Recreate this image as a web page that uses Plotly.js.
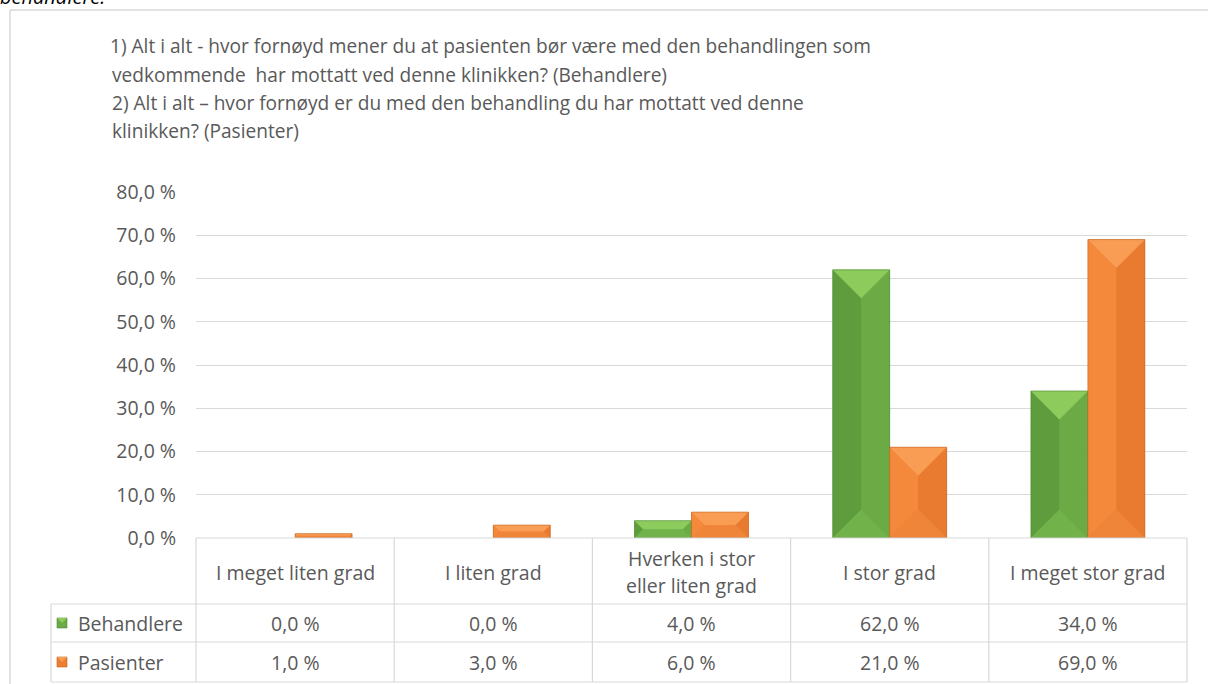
<!DOCTYPE html>
<html>
<head>
<meta charset="utf-8">
<script src="https://cdn.plot.ly/plotly-3.0.1.min.js"></script>
<style>html,body{margin:0;padding:0;background:#fff;}#chart{width:1208px;height:684px;}</style>
</head>
<body>
<div id="chart"></div>
<script>
// ---- data ----
const categories = ['I meget liten grad', 'I liten grad', 'Hverken i stor eller liten grad', 'I stor grad', 'I meget stor grad'];
const headerLines = [['I meget liten grad'], ['I liten grad'], ['Hverken i stor', 'eller liten grad'], ['I stor grad'], ['I meget stor grad']];
const seriesNames = ['Behandlere', 'Pasienter'];
const behandlere = [0, 0, 4, 62, 34];
const pasienter = [1, 3, 6, 21, 69];
const yTicks = [0, 10, 20, 30, 40, 50, 60, 70, 80];
const titleLines = [
  '\u00a01) Alt i alt - hvor fornøyd mener du at pasienten bør være med den behandlingen som',
  'vedkommende  har mottatt ved denne klinikken? (Behandlere)',
  '2) Alt i alt – hvor fornøyd er du med den behandling du har mottatt ved denne',
  'klinikken? (Pasienter)'
];

// ---- geometry / style ----
const FIGW = 1208, FIGH = 684;
const L = 196, R = 1187, T = 192, B = 538;
const W = R - L, H = B - T;
const YMAX = 80;
const BARGAP = 0.425;
const FONT = 'Open Sans, sans-serif';
const TXT = '#595959';
const GRID = '#D9D9D9';
const pal = [
  {base: '#6BAA45', left: '#5E9C3E', right: '#6BAA45', top: '#8CCB5C', bottom: '#72B24A', edge: '#4E8A33'},
  {base: '#ED7D31', left: '#F5893B', right: '#E87B30', top: '#F99D55', bottom: '#EF8538', edge: '#C4641F'}
];
const fmt = v => v.toFixed(1).replace('.', ',') + ' %';
const px2x = px => (px - L) / W;
const py2y = py => (B - py) / H;

const series = [behandlere, pasienter];
const traces = series.map((vals, t) => ({
  type: 'bar', name: seriesNames[t], x: categories, y: vals,
  marker: {color: pal[t].base, line: {width: 0}},
  hoverinfo: 'x+y+name'
}));

const shapes = [];
const annotations = [];

// bevel faces on bars (computed from data)
const bw = (1 - BARGAP) / 2;
const catPx = W / categories.length;
const unitPx = H / YMAX;
series.forEach((vals, t) => {
  vals.forEach((v, i) => {
    if (v <= 0) return;
    const c = i + (t === 0 ? -bw / 2 : bw / 2);
    const x0 = c - bw / 2, x1 = c + bw / 2;
    const dpx = Math.min(bw * catPx, v * unitPx) / 2;
    const dx = dpx / catPx, dy = dpx / unitPx;
    const ix0 = x0 + dx, ix1 = x1 - dx, iy0 = dy, iy1 = v - dy;
    const faces = [
      [`M${x0},0 L${x0},${v} L${ix0},${iy1} L${ix0},${iy0} Z`, pal[t].left],
      [`M${x1},0 L${x1},${v} L${ix1},${iy1} L${ix1},${iy0} Z`, pal[t].right],
      [`M${x0},0 L${x1},0 L${ix1},${iy0} L${ix0},${iy0} Z`, pal[t].bottom],
      [`M${x0},${v} L${x1},${v} L${ix1},${iy1} L${ix0},${iy1} Z`, pal[t].top]
    ];
    faces.forEach(([p, col]) => shapes.push({type: 'path', xref: 'x', yref: 'y', path: p, fillcolor: col, line: {width: 0}, layer: 'above'}));
    shapes.push({type: 'rect', xref: 'x', yref: 'y', x0: x0, x1: x1, y0: 0, y1: v, line: {color: pal[t].edge, width: 0.6}, fillcolor: 'rgba(0,0,0,0)', layer: 'above'});
  });
});

// outer frame (partial, as in the screenshot)
shapes.push({type: 'line', xref: 'paper', yref: 'paper', x0: px2x(10), x1: px2x(10), y0: py2y(10), y1: py2y(690), line: {color: '#D9D9D9', width: 1.5}});
shapes.push({type: 'line', xref: 'paper', yref: 'paper', x0: px2x(10), x1: px2x(1210), y0: py2y(10), y1: py2y(10), line: {color: '#D9D9D9', width: 1.5}});

// data table grid
const rowY = [538, 604, 642, 682];
const tLeft = 51;
const colX = categories.map((_, k) => L + k * catPx).concat([R]);
const gl = {color: GRID, width: 1.2};
shapes.push({type: 'line', xref: 'paper', yref: 'paper', x0: 0, x1: 1, y0: py2y(rowY[0]), y1: py2y(rowY[0]), line: gl});
[rowY[1], rowY[2], rowY[3]].forEach(py => shapes.push({type: 'line', xref: 'paper', yref: 'paper', x0: px2x(tLeft), x1: 1, y0: py2y(py), y1: py2y(py), line: gl}));
shapes.push({type: 'line', xref: 'paper', yref: 'paper', x0: px2x(tLeft), x1: px2x(tLeft), y0: py2y(rowY[1]), y1: py2y(rowY[3]), line: gl});
colX.forEach(px => shapes.push({type: 'line', xref: 'paper', yref: 'paper', x0: px2x(px), x1: px2x(px), y0: py2y(rowY[0]), y1: py2y(rowY[3]), line: gl}));

const tf = {family: FONT, size: 19.5, color: TXT};
// header labels
headerLines.forEach((lines, i) => {
  const mid = (rowY[0] + rowY[1]) / 2 + 1;
  const step = 27;
  lines.forEach((ln, j) => {
    const py = mid + (j - (lines.length - 1) / 2) * step;
    annotations.push({xref: 'x', yref: 'paper', x: categories[i], y: py2y(py), text: ln, showarrow: false, font: tf, xanchor: 'center', yanchor: 'middle'});
  });
});
// rows: legend keys, names, values
series.forEach((vals, t) => {
  const mid = (rowY[t + 1] + rowY[t + 2]) / 2;
  shapes.push({type: 'rect', xref: 'paper', yref: 'paper', x0: px2x(57), x1: px2x(67), y0: py2y(mid + 5), y1: py2y(mid - 5), fillcolor: pal[t].base, line: {color: pal[t].edge, width: 0.6}});
  shapes.push({type: 'path', xref: 'paper', yref: 'paper', path: `M${px2x(57)},${py2y(mid - 5)} L${px2x(67)},${py2y(mid - 5)} L${px2x(62)},${py2y(mid)} Z`, fillcolor: pal[t].top, line: {width: 0}});
  annotations.push({xref: 'paper', yref: 'paper', x: px2x(76), y: py2y(mid), text: seriesNames[t], showarrow: false, font: tf, xanchor: 'left', yanchor: 'middle'});
  vals.forEach((v, i) => annotations.push({xref: 'x', yref: 'paper', x: categories[i], y: py2y(mid), text: fmt(v), showarrow: false, font: tf, xanchor: 'center', yanchor: 'middle'}));
});

// title continuation lines
const titleY = [46, 75, 103, 131];
const titleFont = {family: FONT, size: 19.1, color: TXT};
for (let k = 1; k < titleLines.length; k++) {
  annotations.push({xref: 'paper', yref: 'paper', x: px2x(110), y: py2y(titleY[k]), text: titleLines[k], showarrow: false, xanchor: 'left', yanchor: 'middle', font: titleFont});
}
// cropped caption text at very top
annotations.push({xref: 'paper', yref: 'paper', x: px2x(-2), y: py2y(12), text: 'behandlere.', showarrow: false, xanchor: 'left', yanchor: 'bottom', font: {family: FONT, size: 20, color: '#000', style: 'italic'}});

const layout = {
  width: FIGW, height: FIGH,
  margin: {l: L, r: FIGW - R, t: T, b: FIGH - B, pad: 0},
  paper_bgcolor: '#fff', plot_bgcolor: '#fff',
  showlegend: false,
  barmode: 'group', bargap: BARGAP, bargroupgap: 0,
  title: {text: titleLines[0], xref: 'container', yref: 'container', x: 110 / FIGW, xanchor: 'left', y: 1 - titleY[0] / FIGH, yanchor: 'middle', font: titleFont},
  xaxis: {type: 'category', range: [-0.5, 4.5], showticklabels: false, showgrid: false, zeroline: false, showline: false, fixedrange: true},
  yaxis: {range: [0, YMAX], tickvals: yTicks, ticktext: yTicks.map(fmt), showgrid: true, gridcolor: GRID, gridwidth: 1.2, zeroline: false, showline: false, ticks: '', ticklabelstandoff: 19, tickfont: {family: FONT, size: 19.5, color: TXT}, fixedrange: true},
  shapes: shapes,
  annotations: annotations
};

Plotly.newPlot('chart', traces, layout, {displayModeBar: false});
</script>
</body>
</html>
